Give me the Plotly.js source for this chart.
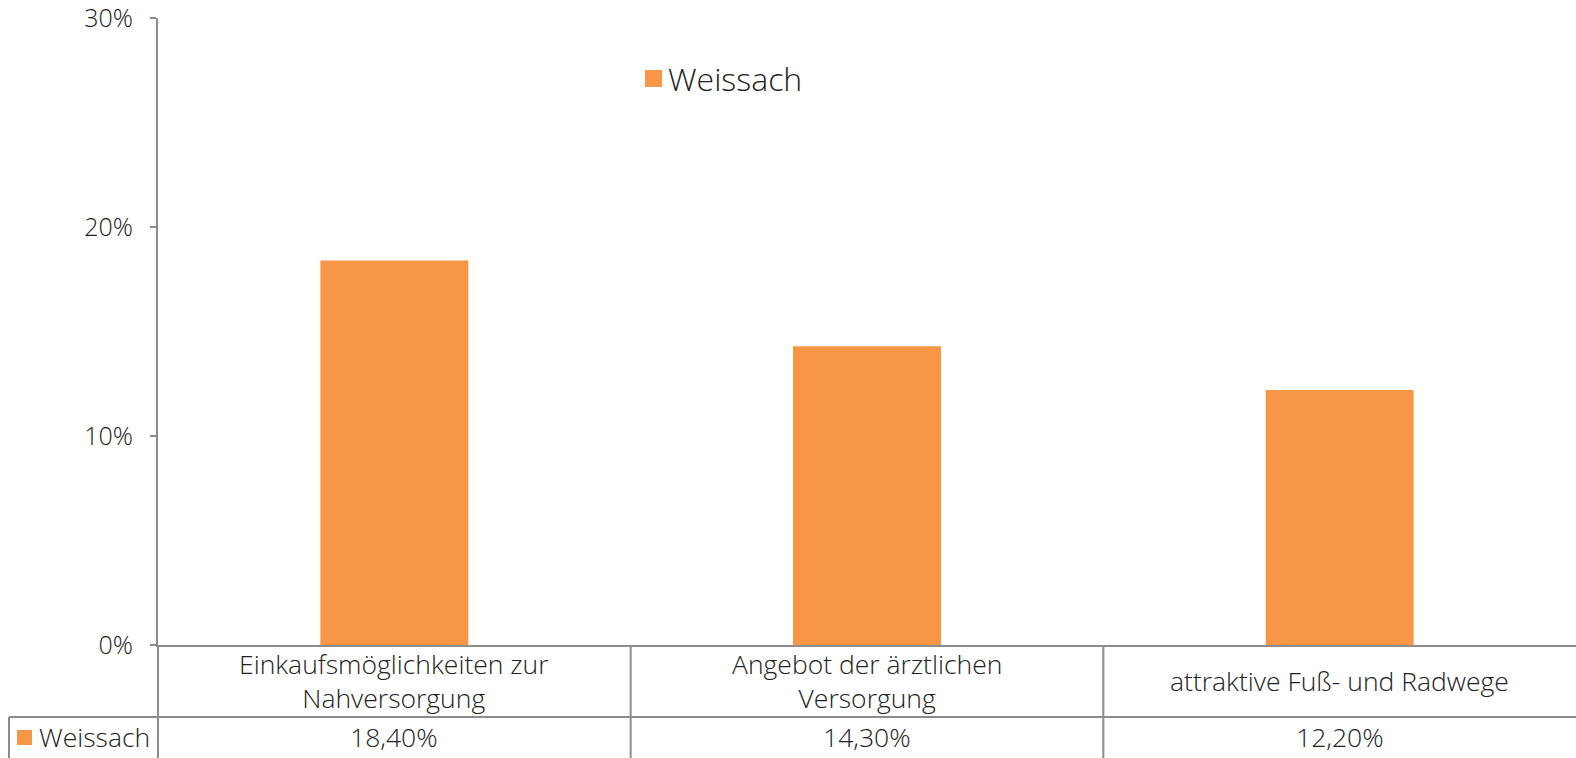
<!DOCTYPE html>
<html>
<head>
<meta charset="utf-8">
<script src="https://cdn.plot.ly/plotly-3.0.1.min.js"></script>
<style>
  html, body { margin: 0; padding: 0; background: #fff; }
  #chart { width: 1576px; height: 758px; }
</style>
</head>
<body>
<div id="chart"></div>
<script>
// Daten
const categories = ['Einkaufsmöglichkeiten zur<br>Nahversorgung', 'Angebot der ärztlichen<br>Versorgung', 'attraktive Fuß- und Radwege'];
const values = [0.184, 0.143, 0.122];
const valueLabels = ['18,40%', '14,30%', '12,20%'];
const seriesName = 'Weissach';

const orange = '#F79646';
const gridGray = '#8c8c8c';
const textColor = '#222222';
const fontFam = '"Open Sans", Lato, sans-serif';
const fontW = 300;

// Pixel -> paper (Plotbereich: y=18..645, x=158..1576)
const plotTop = 18, plotBottom = 645, plotH = plotBottom - plotTop;
const plotLeft = 158, plotW = 1576 - plotLeft;
const py = p => (plotBottom - p) / plotH;
const px = p => (p - plotLeft) / plotW;

const idx = categories.map((_, i) => i);

const traces = [{
    type: 'bar',
    x: idx,
    y: values,
    name: seriesName,
    marker: {color: orange},
    width: 0.313,
    hoverinfo: 'skip'
}];

// Tabelle unter der Achse
const shapes = [];
const lineStyle = {color: gridGray, width: 2};
shapes.push({type: 'line', xref: 'paper', yref: 'paper', x0: px(9), x1: 1, y0: py(717), y1: py(717), line: lineStyle});
shapes.push({type: 'line', xref: 'paper', yref: 'paper', x0: px(9), x1: px(9), y0: py(717), y1: py(760), line: lineStyle});
shapes.push({type: 'line', xref: 'paper', yref: 'paper', x0: 0, x1: 0, y0: py(645), y1: py(760), line: lineStyle});
for (let i = 0; i < categories.length - 1; i++) {
    shapes.push({type: 'line', xref: 'x', yref: 'paper', x0: i + 0.5, x1: i + 0.5, y0: py(645), y1: py(760), line: lineStyle});
}
// Symbol in der Tabelle
shapes.push({type: 'rect', xref: 'paper', yref: 'paper',
    x0: px(17), x1: px(32), y0: py(745), y1: py(730),
    fillcolor: orange, line: {width: 0}});
// Legende oben
shapes.push({type: 'rect', xref: 'paper', yref: 'paper',
    x0: px(645), x1: px(662), y0: py(87), y1: py(70),
    fillcolor: orange, line: {width: 0}});

const annotations = [];
const cellFont = {family: fontFam, size: 26.5, color: textColor, weight: fontW};
categories.forEach((c, i) => {
    annotations.push({
        x: i, xref: 'x', y: py(681), yref: 'paper',
        text: c, showarrow: false, align: 'center',
        xanchor: 'center', yanchor: 'middle',
        font: cellFont
    });
    annotations.push({
        x: i, xref: 'x', y: py(737), yref: 'paper',
        text: valueLabels[i], showarrow: false,
        xanchor: 'center', yanchor: 'middle',
        font: cellFont
    });
});
annotations.push({
    x: px(37), xref: 'paper', y: py(737), yref: 'paper',
    text: seriesName, showarrow: false,
    xanchor: 'left', yanchor: 'middle',
    font: cellFont
});
annotations.push({
    x: px(666), xref: 'paper', y: py(78), yref: 'paper',
    text: seriesName, showarrow: false,
    xanchor: 'left', yanchor: 'middle',
    font: {family: fontFam, size: 32, color: textColor, weight: fontW}
});

const layout = {
    width: 1576,
    height: 758,
    margin: {l: plotLeft, r: 0, t: plotTop, b: 758 - plotBottom, pad: 0},
    paper_bgcolor: '#ffffff',
    plot_bgcolor: '#ffffff',
    font: {family: fontFam, color: textColor},
    xaxis: {
        type: 'linear',
        range: [-0.5, categories.length - 0.5],
        showticklabels: false,
        showgrid: false,
        zeroline: false,
        showline: true,
        linecolor: gridGray,
        linewidth: 2,
        ticks: ''
    },
    yaxis: {
        range: [0, 0.30],
        tickvals: [0, 0.1, 0.2, 0.3],
        tickformat: '.0%',
        showgrid: false,
        zeroline: false,
        showline: true,
        linecolor: gridGray,
        linewidth: 2,
        ticks: 'outside',
        ticklen: 6,
        tickwidth: 2,
        tickcolor: gridGray,
        ticklabelstandoff: 12,
        ticklabeloverflow: 'allow',
        tickfont: {family: fontFam, size: 25, color: textColor, weight: fontW}
    },
    showlegend: false,
    shapes: shapes,
    annotations: annotations
};

Plotly.newPlot('chart', traces, layout, {displayModeBar: false, staticPlot: true});
</script>
</body>
</html>
